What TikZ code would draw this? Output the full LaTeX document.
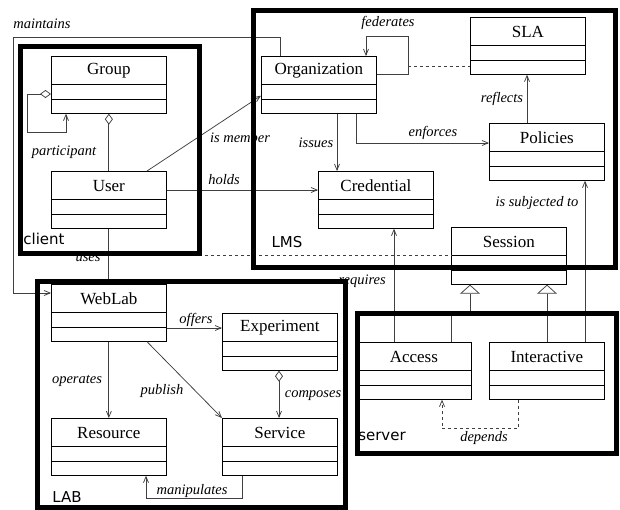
\documentclass[tikz,border=0pt]{standalone}
\usepackage{fontspec}
\setmainfont{Liberation Serif}
\newfontfamily\grpfont{DejaVu Sans}
\usetikzlibrary{arrows.meta,calc}
\newcommand\umlclass[4]{%
  \node[clsbox, anchor=north west] (#1) at (#2,#3) {};
  \draw[clsline] ($(#1.north west)+(0,28.5)$) -- ($(#1.north east)+(0,28.5)$);
  \draw[clsline] ($(#1.north west)+(0,43.5)$) -- ($(#1.north east)+(0,43.5)$);
  \node[clsname] (#1-name) at ($(#1.north)+(0,15)$) {#4};
}
\newcommand\grpbox[5]{%
  \node[grp, minimum width={#4-#2}, minimum height={#5-#3}, anchor=north west] (#1) at (#2,#3) {};
}
\begin{document}
\begin{tikzpicture}[x=1pt,y=-1pt,
  clsbox/.style={draw=black, line width=0.7pt, minimum width=115pt, minimum height=57pt, inner sep=0pt, fill=white},
  clsline/.style={draw=black, line width=0.7pt},
  clsname/.style={font=\fontsize{17}{19}\selectfont, inner sep=0pt},
  lbl/.style={font=\fontsize{14.5}{16}\selectfont\itshape, inner sep=0pt},
  grp/.style={draw=black, line width=5pt, inner sep=0pt},
  grplbl/.style={font=\grpfont\fontsize{15}{17}\selectfont, inner sep=0pt},
  conn/.style={draw=black!75, line width=0.75pt},
  >={Straight Barb[length=6pt,width=5pt]},
  agg/.style={{Diamond[open,length=11pt,width=8pt]}-},
  aggto/.style={{Diamond[open,length=11pt,width=8pt]}->},
  gen/.style={-{Triangle[open,length=9pt,width=20pt]}}
]
\useasboundingbox (0,0) rectangle (620,509);
\fill[white] (0,0) rectangle (620,509);

% classes
\umlclass{group}{51}{56}{Group}
\umlclass{user}{51}{171}{User}
\umlclass{org}{261}{56}{Organization}
\umlclass{sla}{470}{17}{SLA}
\umlclass{pol}{489}{123}{Policies}
\umlclass{cred}{318}{171}{Credential}
\umlclass{session}{451}{227}{Session}
\umlclass{access}{356}{342}{Access}
\umlclass{inter}{489}{342}{Interactive}
\umlclass{weblab}{51}{284}{WebLab}
\umlclass{exp}{222}{313}{Experiment}
\umlclass{resource}{51}{418}{Resource}
\umlclass{service}{222}{418}{Service}

% waypoints
\coordinate (m1) at (13,37);
\coordinate (fed1) at (408,36);
\coordinate (fedc) at (408,66);
\coordinate (gen1) at (470,311);

% maintains
\draw[conn,->] ($(org.north west)+(19,0)$) |- (m1) |- ($(weblab.north west)+(0,9)$);
\node[lbl] (l-maint) at (42,24) {maintains};

% group self aggregation
\draw[conn,aggto] ($(group.north west)+(0,38)$) -| (27,132) -| ($(group.south west)+(15,0)$);
% group-user
\draw[conn,agg] (group.south) -- (user.north);
\node[lbl] (l-part) at (64,152) {participant};

% uses
\draw[conn] (user.south) -- (weblab.north);
\node[lbl] (l-uses) at (88,258) {uses};
\draw[conn,dashed] (user.south |- session.west) -- (session.west);

% is member
\draw[conn,->] ($(user.north west)+(96,0)$) -- ($(org.south west)+(0,-18)$);
\node[lbl] (l-member) at (240,138) {is member};

% holds
\draw[conn,->] ($(user.north east)+(0,19)$) -- ($(cred.north west)+(0,19)$);
\node[lbl] (l-holds) at (224,180) {holds};

% federates
\draw[conn,->] ($(org.north east)+(0,18)$) -| (fed1) -| ($(org.north west)+(105,0)$);
\node[lbl] (l-fed) at (388,23) {federates};
\draw[conn,dashed] (fedc) -- ($(sla.north west)+(0,49)$);

% issues
\draw[conn,->] ($(org.south west)+(76,0)$) -- ($(cred.north west)+(19,0)$);
\node[lbl] (l-issues) at (316,143) {issues};

% enforces
\draw[conn,->] ($(org.south west)+(95,0)$) |- ($(pol.north west)+(0,20)$);
\node[lbl] (l-enf) at (433,133) {enforces};

% reflects
\draw[conn,->] ($(pol.north west)+(38,0)$) -- ($(sla.south west)+(57,0)$);
\node[lbl] (l-refl) at (502,99) {reflects};

% is subjected to
\draw[conn,->] ($(inter.north west)+(96,0)$) -- ($(pol.south west)+(96,0)$);
\node[lbl] (l-subj) at (537,203) {is subjected to};

% requires
\draw[conn,->] ($(access.north west)+(38,0)$) -- ($(cred.south west)+(76,0)$);
\node[lbl, anchor=east] (l-req) at (386,281) {requires};

% generalizations
\draw[conn,gen] ($(access.north west)+(95,0)$) |- (gen1) -- ($(session.south west)+(19,0)$);
\draw[conn,gen] ($(inter.north west)+(58,0)$) -- ($(session.south west)+(96,0)$);

% depends
\draw[conn,dashed,->] ($(inter.south west)+(29,0)$) |- ($(access.south west)+(86,29)$) -- ($(access.south west)+(86,0)$);
\node[lbl] (l-dep) at (484,438) {depends};

% offers
\draw[conn,->] ($(weblab.north east)+(0,44)$) -- ($(exp.north west)+(0,15)$);
\node[lbl] (l-off) at (196,320) {offers};

% operates
\draw[conn,->] (weblab.south) -- (resource.north);
\node[lbl] (l-oper) at (77,381) {operates};

% publish
\draw[conn,->] ($(weblab.south west)+(96,0)$) -- (service.north west);
\node[lbl] (l-pub) at (162,391) {publish};

% composes
\draw[conn,aggto] ($(exp.south west)+(57,0)$) -- ($(service.north west)+(57,0)$);
\node[lbl] (l-comp) at (313,396) {composes};

% manipulates
\draw[conn,->] ($(service.south west)+(20,0)$) |- ($(resource.south west)+(95,23)$) -- ($(resource.south west)+(95,0)$);
\node[lbl] (l-manip) at (192,491) {manipulates};

% group boxes
\grpbox{client}{18}{44}{197}{251}
\grpbox{lms}{251}{8}{613}{265}
\grpbox{lab}{35}{279}{343}{505}
\grpbox{server}{355}{311}{614}{451}
\node[grplbl] (t-client) at (44,239) {client};
\node[grplbl] (t-lms) at (287,242) {LMS};
\node[grplbl] (t-lab) at (67,497) {LAB};
\node[grplbl] (t-server) at (382,436) {server};
\end{tikzpicture}
\end{document}
